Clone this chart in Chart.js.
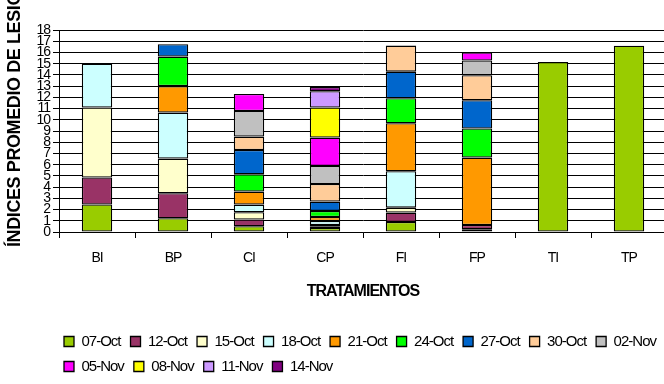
<!DOCTYPE html>
<html>
<head>
<meta charset="utf-8">
<script src="https://cdn.jsdelivr.net/npm/chart.js@4.4.1/dist/chart.umd.min.js"></script>
<style>
  html, body { margin: 0; padding: 0; background: #fff; overflow: hidden; }
  canvas { display: block; }
</style>
</head>
<body>
<canvas id="c" width="670" height="384"></canvas>
<script>
// Treatments on the x axis
const treatments = ['BI', 'BP', 'CI', 'CP', 'FI', 'FP', 'TI', 'TP'];

// Evaluation dates (one stacked series each)
const dates = ['07-Oct', '12-Oct', '15-Oct', '18-Oct', '21-Oct', '24-Oct', '27-Oct',
               '30-Oct', '02-Nov', '05-Nov', '08-Nov', '11-Nov', '14-Nov'];

// Mean lesion index per treatment, one array per date (BI, BP, CI, CP, FI, FP, TI, TP)
const oct07 = [2.45, 1.22, 0.51, 0.36, 0.89, 0.24, 15.15, 16.6];
const oct12 = [2.40, 2.23, 0.60, 0.10, 0.84, 0.38, null, null];
const oct15 = [6.25, 3.09, 0.65, 0.16, 0.44, null, null, null];
const oct18 = [3.90, 4.10, 0.68, 0.36, 3.24, null, null, null];
const oct21 = [null, 2.36, 1.16, 0.36, 4.28, 6.01, null, null];
const oct24 = [null, 2.63, 1.54, 0.53, 2.23, 2.59, null, null];
const oct27 = [null, 1.10, 2.17, 0.84, 2.37, 2.52, null, null];
const oct30 = [null, null, 1.19, 1.57, 2.32, 2.23, null, null];
const nov02 = [null, null, 2.28, 1.60, null, 1.31, null, null];
const nov05 = [null, null, 1.52, 2.53, null, 0.71, null, null];
const nov08 = [null, null, null, 2.68, null, null, null, null];
const nov11 = [null, null, null, 1.45, null, null, null, null];
const nov14 = [null, null, null, 0.38, null, null, null, null];

// Y axis range
const yMin = 0;
const yMax = 18;

const seriesValues = [oct07, oct12, oct15, oct18, oct21, oct24, oct27,
                      oct30, nov02, nov05, nov08, nov11, nov14];

const seriesColors = ['#99CC00', '#993366', '#FFFFCC', '#CCFFFF', '#FF9900', '#00FF00', '#0066CC',
                      '#FFCC99', '#C0C0C0', '#FF00FF', '#FFFF00', '#CC99FF', '#800080'];

const FONT = '"Liberation Sans", Arial, Helvetica, sans-serif';
Chart.defaults.font.family = FONT;
Chart.defaults.color = '#000';

// Tight letter tracking for all canvas text
const tracking = {
  id: 'tracking',
  beforeInit(chart) { chart.ctx.letterSpacing = '-1px'; },
  beforeUpdate(chart) { chart.ctx.letterSpacing = '-1px'; },
  beforeLayout(chart) { chart.ctx.letterSpacing = '-1px'; },
  beforeDraw(chart) { chart.ctx.letterSpacing = '-1px'; }
};

// Legend rows start under the plot instead of at the canvas edge
const legendOffset = {
  id: 'legendOffset',
  afterLayout(chart, args, opts) {
    if (chart.legend) chart.legend.left = opts.left;
  }
};

// Rotated value-axis title, anchored at its start
const yTitle = {
  id: 'yTitle',
  afterDraw(chart, args, opts) {
    const ctx = chart.ctx;
    ctx.save();
    ctx.letterSpacing = '-0.4px';
    ctx.translate(opts.x, opts.y);
    ctx.rotate(-Math.PI / 2);
    ctx.font = 'bold 18px ' + FONT;
    ctx.fillStyle = '#000';
    ctx.textAlign = 'left';
    ctx.textBaseline = 'middle';
    ctx.fillText(opts.text, 0, 0);
    ctx.restore();
  }
};

const datasets = dates.map((d, i) => ({
  label: d,
  data: seriesValues[i],
  backgroundColor: seriesColors[i],
  borderColor: '#000',
  borderWidth: 1.3,
  borderSkipped: false,
  barPercentage: 0.4,
  categoryPercentage: 1.0
}));

new Chart(document.getElementById('c'), {
  type: 'bar',
  data: { labels: treatments, datasets },
  plugins: [tracking, legendOffset, yTitle],
  options: {
    responsive: false,
    animation: false,
    devicePixelRatio: 1,
    layout: { padding: { top: 30, left: 0, right: 3, bottom: 0 } },
    scales: {
      x: {
        stacked: true,
        grid: {
          display: true,
          drawOnChartArea: false,
          drawTicks: true,
          tickLength: 6,
          offset: true,
          color: '#000',
          lineWidth: 1
        },
        border: { display: true, color: '#000', width: 1 },
        ticks: { font: { size: 14 }, color: '#000', padding: 12, maxRotation: 0 },
        title: {
          display: true,
          text: 'TRATAMIENTOS',
          font: { size: 16, weight: 'bold' },
          color: '#000',
          padding: { top: 0, bottom: 23 }
        },
        afterFit(scale) { scale.height = 92; }
      },
      y: {
        stacked: true,
        min: yMin,
        max: yMax,
        grid: {
          color: '#000',
          lineWidth: 1,
          drawTicks: true,
          tickLength: 6
        },
        border: { display: true, color: '#000', width: 1 },
        ticks: {
          stepSize: 1,
          autoSkip: false,
          font: { size: 14 },
          color: '#000',
          padding: 3
        },
        afterFit(scale) { scale.width = 59; }
      }
    },
    plugins: {
      legend: {
        position: 'bottom',
        align: 'start',
        labels: {
          boxWidth: 10,
          boxHeight: 10,
          padding: 10,
          font: { size: 15 },
          color: '#000'
        }
      },
      tooltip: { enabled: false },
      legendOffset: { left: 54 },
      yTitle: { text: 'ÍNDICES PROMEDIO DE LESIÓN', x: 15, y: 247 }
    }
  }
});
</script>
</body>
</html>
